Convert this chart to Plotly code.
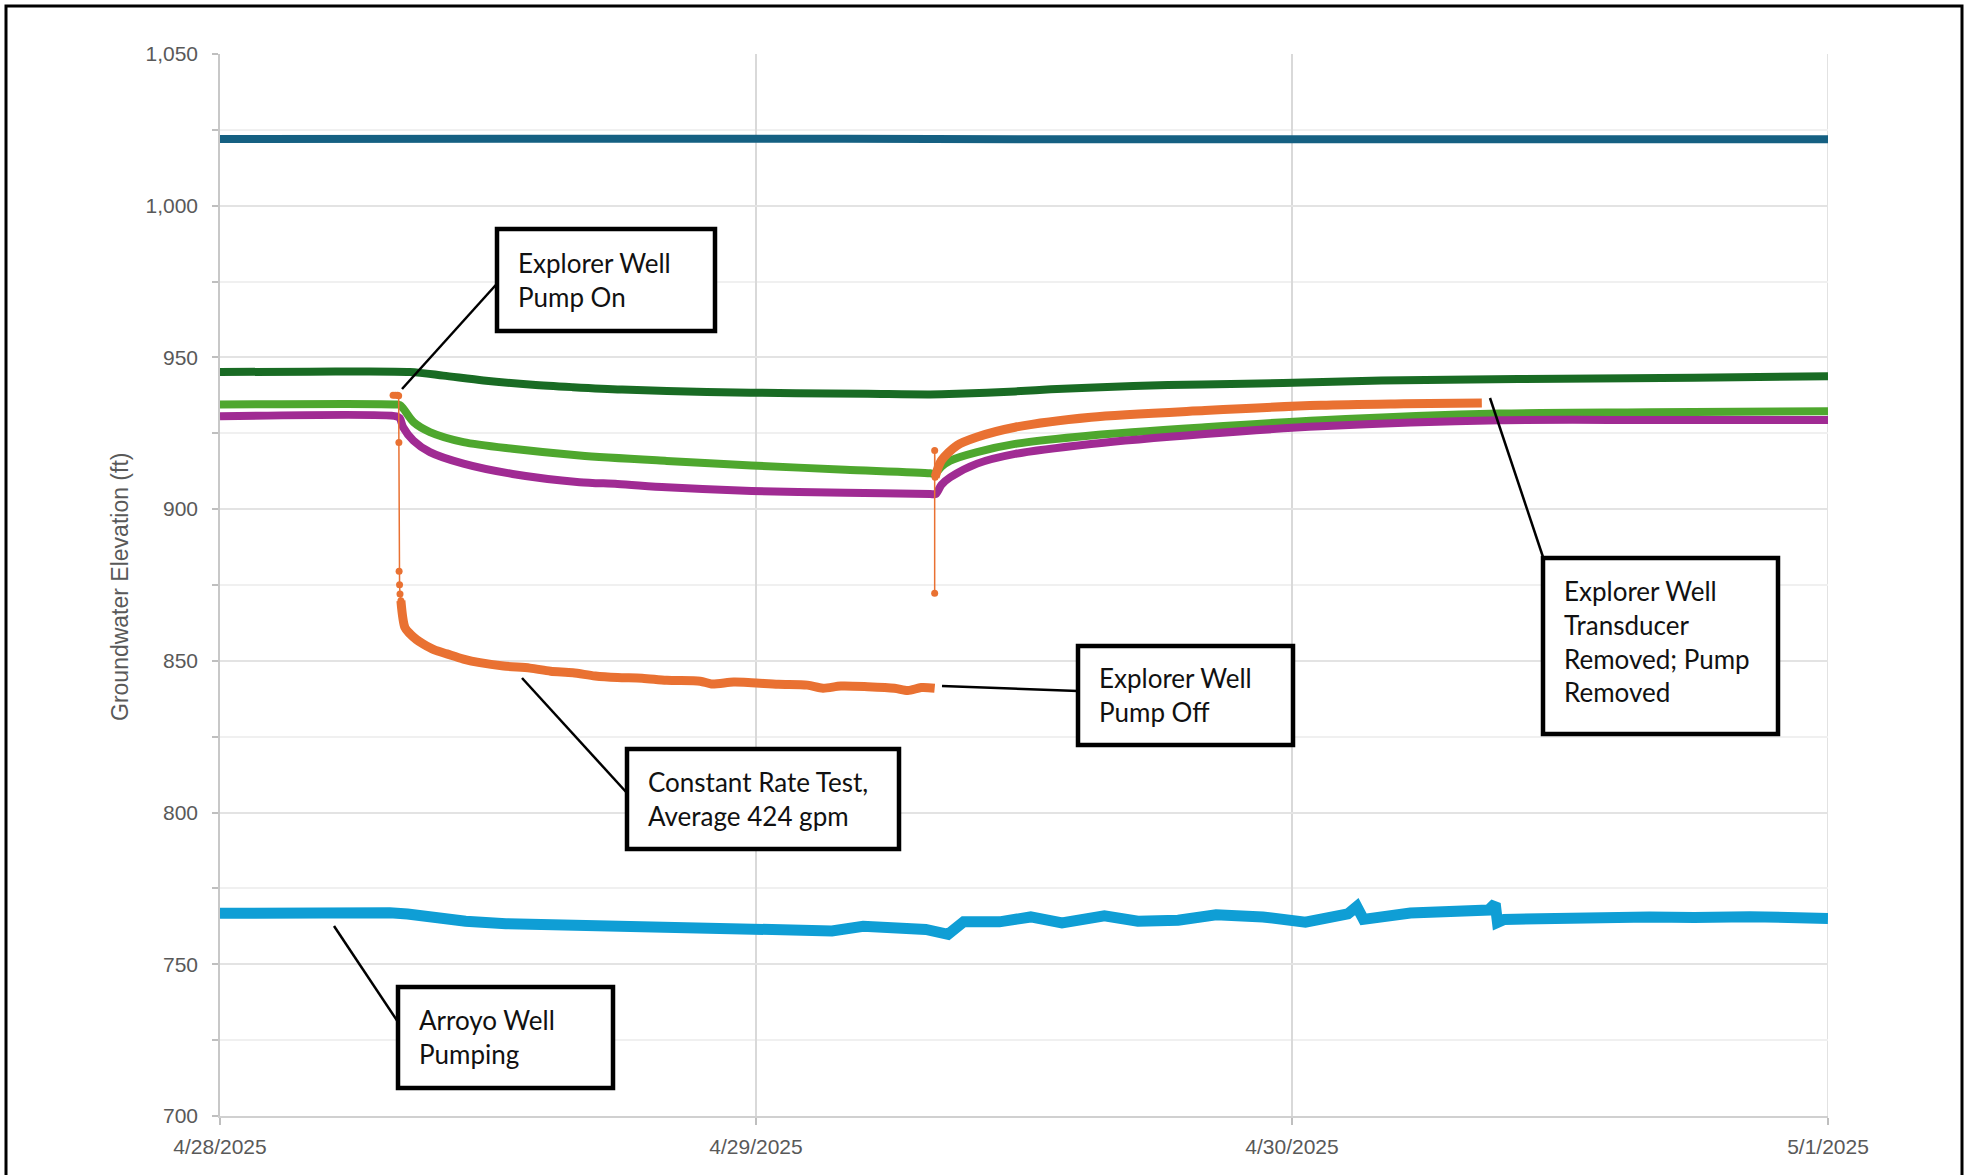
import datetime as dt
import plotly.graph_objects as go

# ---------------- data (hours after 4/28/2025 00:00, groundwater elevation ft) ----------------
BASE = dt.datetime(2025, 4, 28)

teal_h = [0, 8, 12, 20, 28, 36, 48, 60, 72]
teal_v = [1022.0, 1022.1, 1022.5, 1022.3, 1022.1, 1021.9, 1021.9, 1021.9, 1021.9]

dkgreen_h = [0, 4, 8.5, 10, 11.8, 14, 15.8, 18, 21.8, 25.8, 29, 31.8, 33, 35.6, 37.2, 40.9, 44, 47.6, 52, 56,
             60, 66, 72]
dkgreen_v = [945.2, 945.3, 945.2, 944.0, 942.4, 941.0, 940.2, 939.4, 938.6, 938.2, 938.0, 937.8, 938.0, 938.8,
             939.5, 940.6, 941.1, 941.6, 942.4, 942.7, 943.0, 943.3, 943.8]

ltgreen_h = [0, 7.9, 8.05, 8.2, 8.66, 9.4, 10.9, 13.1, 16.1, 20, 23.8, 28, 31.8, 32.0, 32.3, 32.7, 33.9, 35.6,
             39.0, 44.1, 49.3, 57.3, 64, 72]
ltgreen_v = [934.5, 934.5, 934.3, 933.2, 928.7, 925.4, 922.1, 919.9, 917.7, 915.9, 914.4, 913.0, 911.8, 911.6,
             914.0, 916.0, 918.8, 921.5, 924.3, 927.0, 929.3, 931.5, 931.9, 932.3]

purple_h = [0, 7.9, 8.05, 8.2, 8.66, 9.4, 10.9, 13.1, 16.1, 17.8, 20, 23.8, 28, 31.8, 32.05, 32.3, 32.7, 33.9,
            35.6, 39.0, 44.1, 49.3, 57.3, 64, 72]
purple_v = [930.6, 930.6, 930.0, 927.0, 922.6, 918.8, 915.0, 911.6, 908.9, 908.3, 907.2, 906.0, 905.4, 905.0,
            905.0, 908.0, 910.5, 915.0, 918.2, 921.5, 924.8, 927.3, 929.3, 929.4, 929.4]

# Explorer well (orange): sparse transition readings (thin line with markers)
orange_pts_h = [7.75, 7.85, 7.95, 8.0, 8.01, 8.02, 8.04, 8.06, 8.1, None, 32.0, 32.0, 32.02]
orange_pts_v = [937.5, 937.5, 937.5, 937.4, 922.0, 879.5, 875.1, 872.0, 869.8, None, 872.3, 919.3, 910.5]

# Explorer well (orange): pumping and recovery readings (dense, drawn as a band)
orange_h = [8.1, 8.28, 8.51, 8.8, 9.09, 9.6, 10.16, 10.9, 11.64, 12.7, 13.88, 14.8, 15.8, 16.8, 17.8, 18.9,
            20.0, 21.5, 22.0, 23.0, 23.8, 25.0, 26.3, 27.0, 27.8, 29.0, 30.2, 30.8, 31.4, 32.0,
            None,
            32.02, 32.3, 33.0, 33.87, 35.6, 39.0, 44.1, 49.3, 53.0, 56.5]
orange_v = [869.8, 861.0, 858.9, 857.0, 855.6, 853.6, 852.3, 850.6, 849.4, 848.3, 847.6, 846.6, 846.1, 845.0,
            844.5, 844.3, 843.6, 843.3, 842.4, 843.0, 842.8, 842.3, 842.0, 841.0, 841.7, 841.5, 841.0, 840.2,
            841.2, 841.0,
            None,
            910.5, 916.0, 921.0, 923.7, 927.0, 930.3, 932.5, 934.2, 934.7, 935.0]

blue_h = [0, 1.5, 3, 4.5, 6, 7.6, 8.4, 9.2, 10.1, 11, 12.8, 14.5, 16.5, 18.4, 20.3, 22.2, 24.1, 25.8, 27.4,
          28.8, 30.3, 31.6, 32.6, 33.3, 34.9, 36.3, 37.7, 39.6, 41.1, 42.9, 44.6, 46.7, 48.6, 50.5, 50.9,
          51.2, 53.3, 55.0, 56.8, 57.1, 57.2, 57.5, 59.5, 62, 64, 66, 68.5, 72]
blue_v = [766.8, 767.0, 766.9, 767.1, 766.9, 767.0, 766.6, 765.6, 764.8, 764.2, 763.4, 763.2, 762.9, 762.3,
          761.7, 761.9, 761.5, 761.7, 761.0, 762.5, 761.8, 761.5, 759.9, 764.0, 764.0, 765.6, 763.6, 766.0,
          764.2, 764.5, 766.3, 765.6, 763.9, 766.6, 769.0, 764.8, 766.9, 767.2, 767.9, 770.0, 763.8, 764.8,
          765.3, 765.2, 765.6, 765.4, 765.7, 765.1]

y_ticks = [700, 750, 800, 850, 900, 950, 1000, 1050]
day_ticks = ["2025-04-28", "2025-04-29", "2025-04-30", "2025-05-01"]

notes = [
    "Explorer Well<br>Pump On",
    "Explorer Well<br>Pump Off",
    "Constant Rate Test,<br>Average 424 gpm",
    "Explorer Well<br>Transducer<br>Removed; Pump<br>Removed",
    "Arroyo Well<br>Pumping",
]


def t(h):
    return None if h is None else BASE + dt.timedelta(hours=h)


# ---------------- figure ----------------
FW, FH = 1975, 1175
L, R, T, B = 220, 1828, 54, 1116
PW, PH = R - L, B - T


def px(x):
    return (x - L) / PW


def py(y):
    return 1 - (y - T) / PH


fig = go.Figure()


def add_line(hs, vs, color, width, name, shape="spline"):
    fig.add_trace(go.Scatter(x=[t(h) for h in hs], y=vs, mode="lines", name=name,
                             line=dict(color=color, width=width, shape=shape, smoothing=0.8),
                             showlegend=False, connectgaps=False))


add_line(teal_h, teal_v, "#156082", 8, "Well 1", shape="linear")
add_line(blue_h, blue_v, "#0F9ED5", 11, "Arroyo Well", shape="linear")
add_line(dkgreen_h, dkgreen_v, "#196B24", 8, "Well 3")
add_line(ltgreen_h, ltgreen_v, "#4EA72E", 8, "Well 4")
add_line(purple_h, purple_v, "#A02B93", 8, "Well 5")

fig.add_trace(go.Scatter(x=[t(h) for h in orange_pts_h], y=orange_pts_v, mode="lines+markers",
                         line=dict(color="#E97132", width=1.5), marker=dict(color="#E97132", size=7),
                         showlegend=False, connectgaps=False, name="Explorer Well"))
add_line(orange_h, orange_v, "#E97132", 9, "Explorer Well")

# ---------------- annotation boxes ----------------
boxes = [
    (497, 229, 715, 331),
    (1078, 646, 1293, 745),
    (627, 749, 899, 849),
    (1543, 558, 1778, 734),
    (398, 987, 613, 1088),
]
connectors = [
    ((503, 277), (402, 389)),
    ((942, 686), (1078, 691)),
    ((522, 678), (627, 793)),
    ((1490, 398), (1543, 557)),
    ((334, 926), (400, 1025)),
]
text_cy = [280, 695, 799, 641, 1037]

shapes = []
# outer frame
shapes.append(dict(type="rect", xref="paper", yref="paper", x0=px(6), x1=px(1962), y0=py(1190), y1=py(6),
                   line=dict(color="black", width=3), fillcolor="rgba(0,0,0,0)", layer="below"))
# gridline at the last day (right edge of the plot)
shapes.append(dict(type="line", xref="x", yref="paper", x0=day_ticks[-1], x1=day_ticks[-1], y0=0, y1=1,
                   line=dict(color="#d9d9d9", width=1.5), layer="below"))
for (a, b) in connectors:
    shapes.append(dict(type="line", xref="paper", yref="paper", x0=px(a[0]), y0=py(a[1]),
                       x1=px(b[0]), y1=py(b[1]), line=dict(color="black", width=2.5), layer="above"))
for (x0, y0, x1, y1) in boxes:
    shapes.append(dict(type="rect", xref="paper", yref="paper", x0=px(x0), x1=px(x1), y0=py(y1), y1=py(y0),
                       line=dict(color="black", width=4.5), fillcolor="white", layer="above"))

annotations = []
for txt, (x0, y0, x1, y1), cy in zip(notes, boxes, text_cy):
    annotations.append(dict(text=txt, xref="paper", yref="paper", x=px(x0 + 19), y=py(cy),
                            xanchor="left", yanchor="middle", align="left", showarrow=False,
                            font=dict(family="Lato", size=26, color="#111111")))

annotations.append(dict(text="Groundwater Elevation (ft)", xref="paper", yref="paper", x=px(120), y=py(587),
                        xanchor="center", yanchor="middle", textangle=-90, showarrow=False,
                        font=dict(family="Liberation Sans, Arial", size=23, color="#595959")))

fig.update_layout(
    width=FW, height=FH,
    margin=dict(l=L, r=FW - R, t=T, b=FH - B, pad=0),
    paper_bgcolor="white", plot_bgcolor="white",
    shapes=shapes, annotations=annotations,
    showlegend=False,
    font=dict(family="Liberation Sans, Arial", color="#595959"),
)

fig.update_xaxes(
    type="date",
    range=[day_ticks[0], day_ticks[-1]],
    tickvals=day_ticks,
    tickformat="%-m/%-d/%Y",
    tickfont=dict(size=21, color="#595959"),
    showgrid=True, gridcolor="#d9d9d9", gridwidth=1.5,
    showline=True, linecolor="#d0d0d0", linewidth=2,
    ticks="outside", ticklen=7, tickcolor="#bfbfbf", tickwidth=1.5,
    ticklabelstandoff=4,
    zeroline=False,
)
fig.update_yaxes(
    range=[700, 1050],
    tickvals=y_ticks,
    tickformat=",d",
    tickfont=dict(size=21, color="#595959"),
    showgrid=True, gridcolor="#e3e3e3", gridwidth=2,
    showline=True, linecolor="#c8c8c8", linewidth=1.5,
    ticks="outside", ticklen=6, tickcolor="#bfbfbf", tickwidth=1.5,
    ticklabelstandoff=10,
    minor=dict(dtick=25, tick0=700, showgrid=True, gridcolor="#f0f0f0", gridwidth=1.5,
               ticks="outside", ticklen=6, tickcolor="#bfbfbf", tickwidth=1.5),
    zeroline=False,
)

fig.write_html("out.html", config={"displayModeBar": False},
               post_script="document.body.style.margin='0';document.documentElement.style.overflow='hidden';")
